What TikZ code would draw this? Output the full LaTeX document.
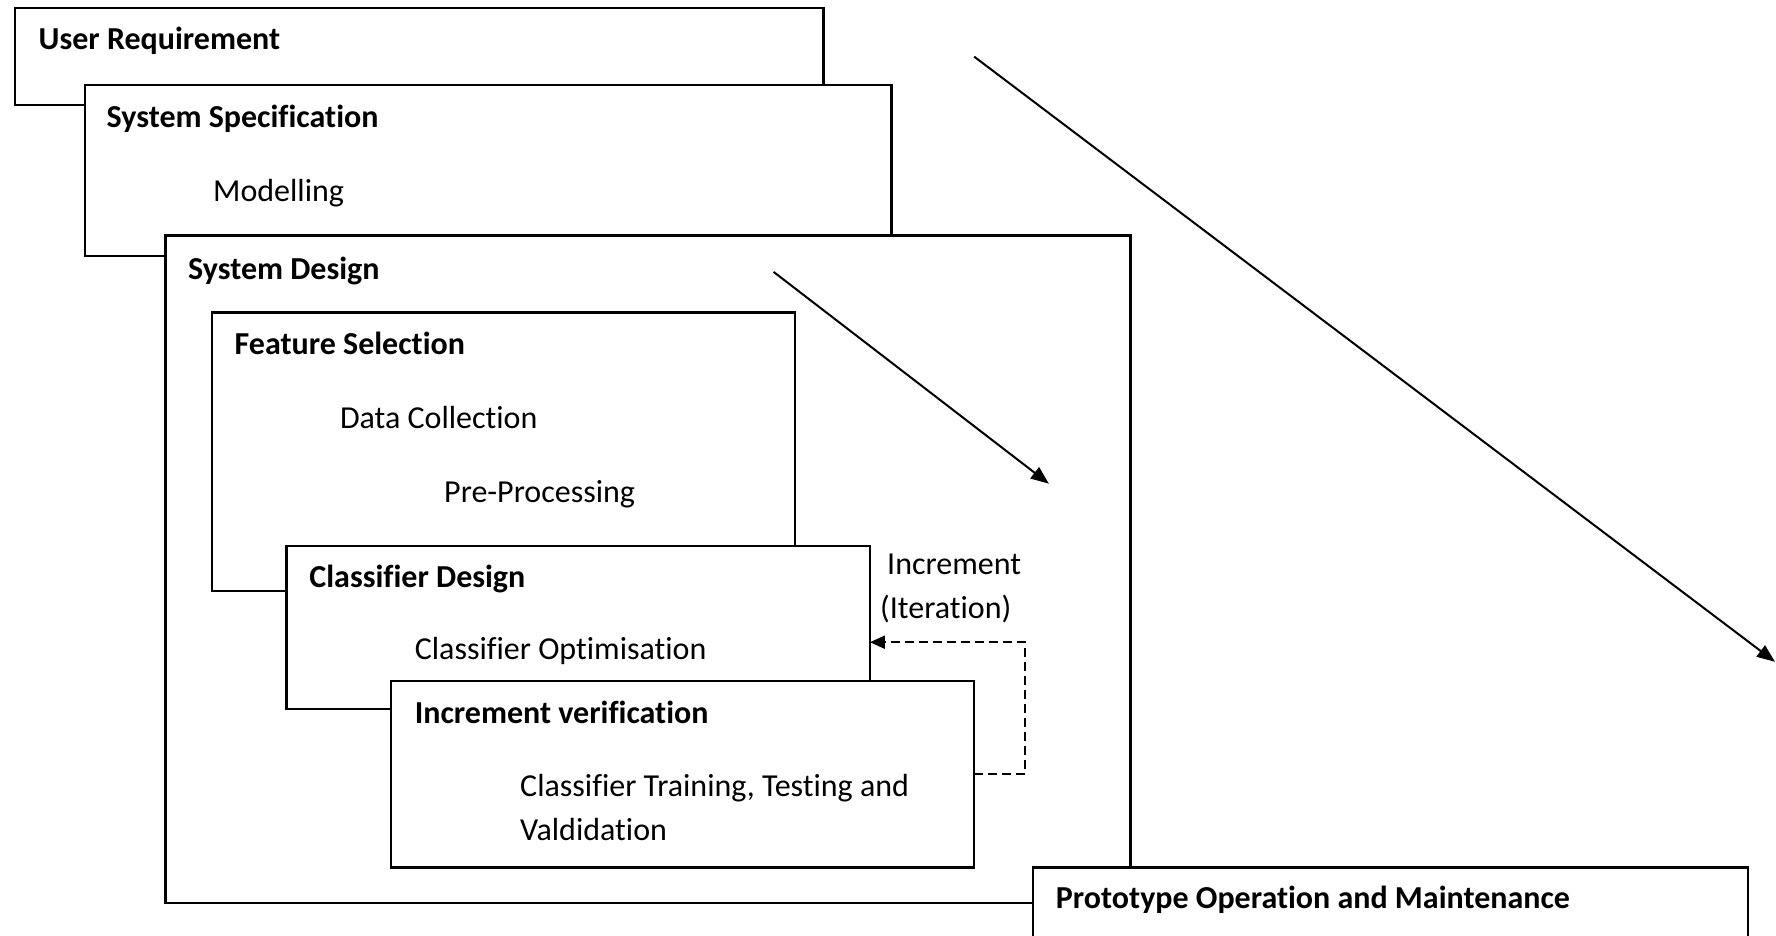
\documentclass[tikz,border=0pt]{standalone}
\usepackage{fontspec}
\setmainfont{Carlito}[Ligatures=NoCommon]
\usetikzlibrary{arrows.meta}

\begin{document}
\begin{tikzpicture}[x=1pt, y=-1pt,
    stage/.style={draw, fill=white, line width=2.3pt, anchor=north west, outer sep=0pt, inner sep=0pt},
    head/.style={anchor=base west, inner sep=0pt, font=\fontsize{32}{38}\selectfont\bfseries},
    body/.style={anchor=base west, inner sep=0pt, font=\fontsize{32}{38}\selectfont},
    flow/.style={line width=2pt, -{Triangle[length=18pt, width=14pt]}},
    iterline/.style={line width=2pt, dash pattern=on 9pt off 5pt, -{Triangle[length=15pt, width=13pt]}}]
    \path[use as bounding box, clip] (0,0) rectangle (1776,936);

    % outer stages
    \node[stage, minimum width=808.8pt, minimum height=97.4pt] (ur) at (14.7,7.9) {};
    \node[head] (urt) at (38.5,50) {User Requirement};

    \node[stage, minimum width=806.4pt, minimum height=171pt] (ss) at (85,85) {};
    \node[head] (sst) at (106.5,128) {System Specification};
    \node[body] (model) at (213,201) {Modelling};

    \node[stage, minimum width=965pt, minimum height=667.2pt] (sd) at (165.4,235.6) {};
    \node[head] (sdt) at (188,279) {System Design};

    % inner stages
    \node[stage, minimum width=583.4pt, minimum height=278.7pt] (fs) at (211.8,312.6) {};
    \node[head] (fst) at (234.5,354) {Feature Selection};
    \node[body] (datacol) at (339.8,428.5) {Data Collection};
    \node[body] (preproc) at (444,502) {Pre-Processing};

    \node[stage, minimum width=583.3pt, minimum height=163pt] (cd) at (286.6,546) {};
    \node[head] (cdt) at (309.2,587) {Classifier Design};
    \node[body] (optim) at (414.6,659.5) {Classifier Optimisation};

    \node[stage, minimum width=583.3pt, minimum height=186.8pt] (iv) at (390.8,680.8) {};
    \node[head] (ivt) at (414.6,723) {Increment verification};
    \node[body] (train) at (520,796.5) {Classifier Training, Testing and};
    \node[body] (valid) at (520,840.5) {Valdidation};

    \node[stage, minimum width=714.8pt, minimum height=150pt] (po) at (1033,867.6) {};
    \node[head] (pot) at (1055.7,908.7) {Prototype Operation and Maintenance};

    % iteration loop
    \node[body] (incr) at (887,574.5) {Increment};
    \node[body] (iter) at (880,618.5) {(Iteration)};
    \draw[iterline] (iv.east) -- ++(51,0) |- ([yshift=-14.7pt]cd.east);

    % flow arrows
    \coordinate (inS) at (773.6,271.9);
    \coordinate (inE) at (1048.9,483.7);
    \coordinate (outS) at (974.1,56.6);
    \coordinate (outE) at (1775,661.8);
    \draw[flow] (inS) -- (inE);
    \draw[flow] (outS) -- (outE);
\end{tikzpicture}
\end{document}
